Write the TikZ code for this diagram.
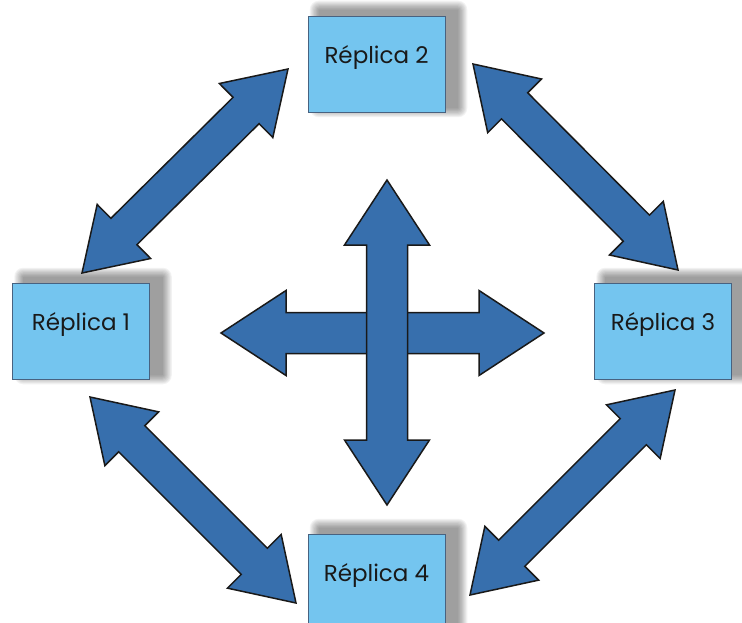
\documentclass[tikz,border=0pt]{standalone}
\usepackage{fontspec}
\newfontfamily\replicafont{Poppins}
\usetikzlibrary{calc,backgrounds}

\definecolor{boxblue}{RGB}{116,197,239}
\definecolor{boxedge}{RGB}{72,98,128}
\definecolor{arrowblue}{RGB}{55,111,173}

\tikzset{
  replica/.style={draw=boxedge, line width=0.7pt, fill=boxblue,
    minimum width=137pt, minimum height=96pt, inner sep=0pt},
  replicatext/.style={font=\replicafont\fontsize{23}{27}\selectfont,
    text=black!90, inner sep=0pt},
  flowarrow/.style={draw=black!90, line width=1.5pt, fill=arrowblue,
    line join=miter},
}

% soft shadow behind a box: stacked translucent rectangles
\newcommand\boxshadow[1]{%
  \foreach \k in {1,...,9}{%
    \fill[black, opacity=0.05, rounded corners=\k pt]
      ([xshift=12pt-\k*1.1pt, yshift=5pt-\k*1.1pt]#1.south west)
      rectangle ([xshift=12pt+\k*1.1pt, yshift=5pt+\k*1.1pt]#1.north east);
  }%
}

% double-headed block arrow between two named points
% #1,#2 tips, #3 shaft half width, #4 head half width, #5 head length
\newcommand\duplex[5]{%
  \draw[flowarrow] (#1)
    -- ($(#1)!#5!(#2)!#4!90:(#2)$)
    -- ($(#1)!#5!(#2)!#3!90:(#2)$)
    -- ($(#2)!#5!(#1)!#3!-90:(#1)$)
    -- ($(#2)!#5!(#1)!#4!-90:(#1)$)
    -- (#2)
    -- ($(#2)!#5!(#1)!#4!90:(#1)$)
    -- ($(#2)!#5!(#1)!#3!90:(#1)$)
    -- ($(#1)!#5!(#2)!#3!-90:(#2)$)
    -- ($(#1)!#5!(#2)!#4!-90:(#2)$)
    -- cycle;}

\begin{document}
\begin{tikzpicture}[x=1pt, y=-1pt]
  \path[use as bounding box] (0,0) rectangle (742,623);
  \clip (0,0) rectangle (742,623);

  % the four replicas
  \path
    (81,331)    node[replica] (r1) {}
    (376.5,64)  node[replica] (r2) {}
    (663,331)   node[replica] (r3) {}
    (376.5,582) node[replica] (r4) {};

  \begin{scope}[on background layer]
    \boxshadow{r1}
    \boxshadow{r2}
    \boxshadow{r3}
    \boxshadow{r4}
  \end{scope}

  \node[replicatext] (t1) at ([yshift=-42pt]r1.north) {Réplica 1};
  \node[replicatext] (t2) at ([yshift=-42pt]r2.north) {Réplica 2};
  \node[replicatext] (t3) at ([yshift=-42pt]r3.north) {Réplica 3};
  \node[replicatext] (t4) at ([yshift=-42pt]r4.north) {Réplica 4};

  % arrow tips
  \coordinate (a12) at (82,273);   \coordinate (a21) at (288,69);
  \coordinate (a23) at (473,64);   \coordinate (a32) at (678,270);
  \coordinate (a14) at (90,397);   \coordinate (a41) at (296,603);
  \coordinate (a34) at (675,390);  \coordinate (a43) at (470,595);
  \coordinate (cw) at (221,333);   \coordinate (ce) at (544,333);
  \coordinate (cn) at (387,180);   \coordinate (cs) at (387,505);

  % links between the replicas
  \duplex{a12}{a21}{18.5pt}{38pt}{59pt}
  \duplex{a23}{a32}{18.5pt}{38pt}{59pt}
  \duplex{a14}{a41}{18.5pt}{38pt}{59pt}
  \duplex{a34}{a43}{18.5pt}{38pt}{59pt}

  % central cross
  \duplex{cw}{ce}{20.5pt}{42.5pt}{65pt}
  \duplex{cn}{cs}{20.5pt}{42.5pt}{65pt}
\end{tikzpicture}
\end{document}
